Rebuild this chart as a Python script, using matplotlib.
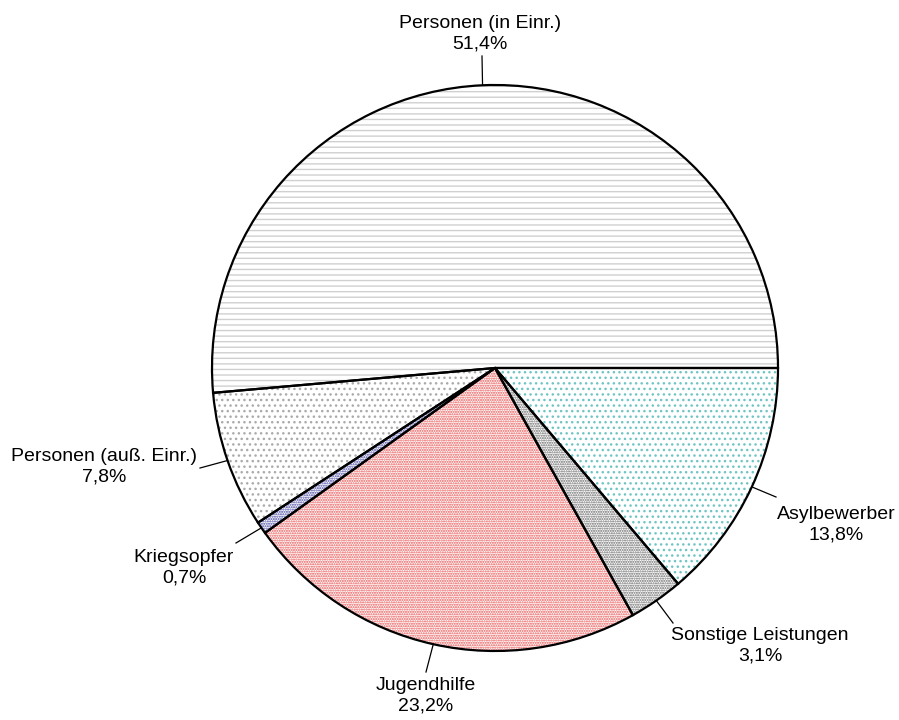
import matplotlib.pyplot as plt
import numpy as np

plt.rcParams['font.family'] = ['Liberation Sans', 'DejaVu Sans']
plt.rcParams['hatch.linewidth'] = 1.0

# data (clockwise from 3 o'clock)
labels = ['Asylbewerber', 'Sonstige Leistungen', 'Jugendhilfe', 'Kriegsopfer',
          'Personen (auß. Einr.)', 'Personen (in Einr.)']
values = [13.8, 3.1, 23.2, 0.7, 7.8, 51.4]
pct_text = ['13,8%', '3,1%', '23,2%', '0,7%', '7,8%', '51,4%']

# styles
hatch_colors = ['#70c4c4', '#666666', '#e85050', '#4040a0', '#aaaaaa', '#d0d0d0']
hatches = ['...', '.......', '.......', '.......', '...', '---']

# label placement (pixels from top-left) and leader line ends
text_pos = [(836, 525), (760, 646), (426, 696), (184, 568), (104, 467), (480, 34)]
line_end = [(776, 497), (673, 623), (426, 672), (236, 543), (200, 468), (482, 56)]

W, H = 899, 720
fig = plt.figure(figsize=(W / 100, H / 100), dpi=100)
ax = fig.add_axes([0, 0, 1, 1])

cx, cy, r = 495, H - 368, 283

# hatched fill (hatch colour comes from edgecolor)
wedges, _ = ax.pie(values, center=(cx, cy), radius=r, startangle=0,
                   counterclock=False, frame=True,
                   wedgeprops=dict(facecolor='white', linewidth=0))
for w, hc, h in zip(wedges, hatch_colors, hatches):
    w.set_hatch(h)
    w.set_edgecolor(hc)

# black outlines
outl, _ = ax.pie(values, center=(cx, cy), radius=r, startangle=0,
                 counterclock=False, frame=True,
                 wedgeprops=dict(fill=False, edgecolor='black', linewidth=1.6))
ax.set_xlim(0, W)
ax.set_ylim(0, H)
ax.set_aspect('equal')
ax.axis('off')

for w, lab, p, tp, le in zip(outl, labels, pct_text, text_pos, line_end):
    mid = np.deg2rad((w.theta1 + w.theta2) / 2)
    ax0 = cx + r * np.cos(mid)
    ay0 = cy + r * np.sin(mid)
    ax.plot([ax0, le[0]], [ay0, H - le[1]], color='black', linewidth=0.9)
    ax.text(tp[0], H - tp[1], lab + '\n' + p, ha='center', va='center',
            fontsize=14, linespacing=1.3)

fig.savefig('out.png', dpi=100)
